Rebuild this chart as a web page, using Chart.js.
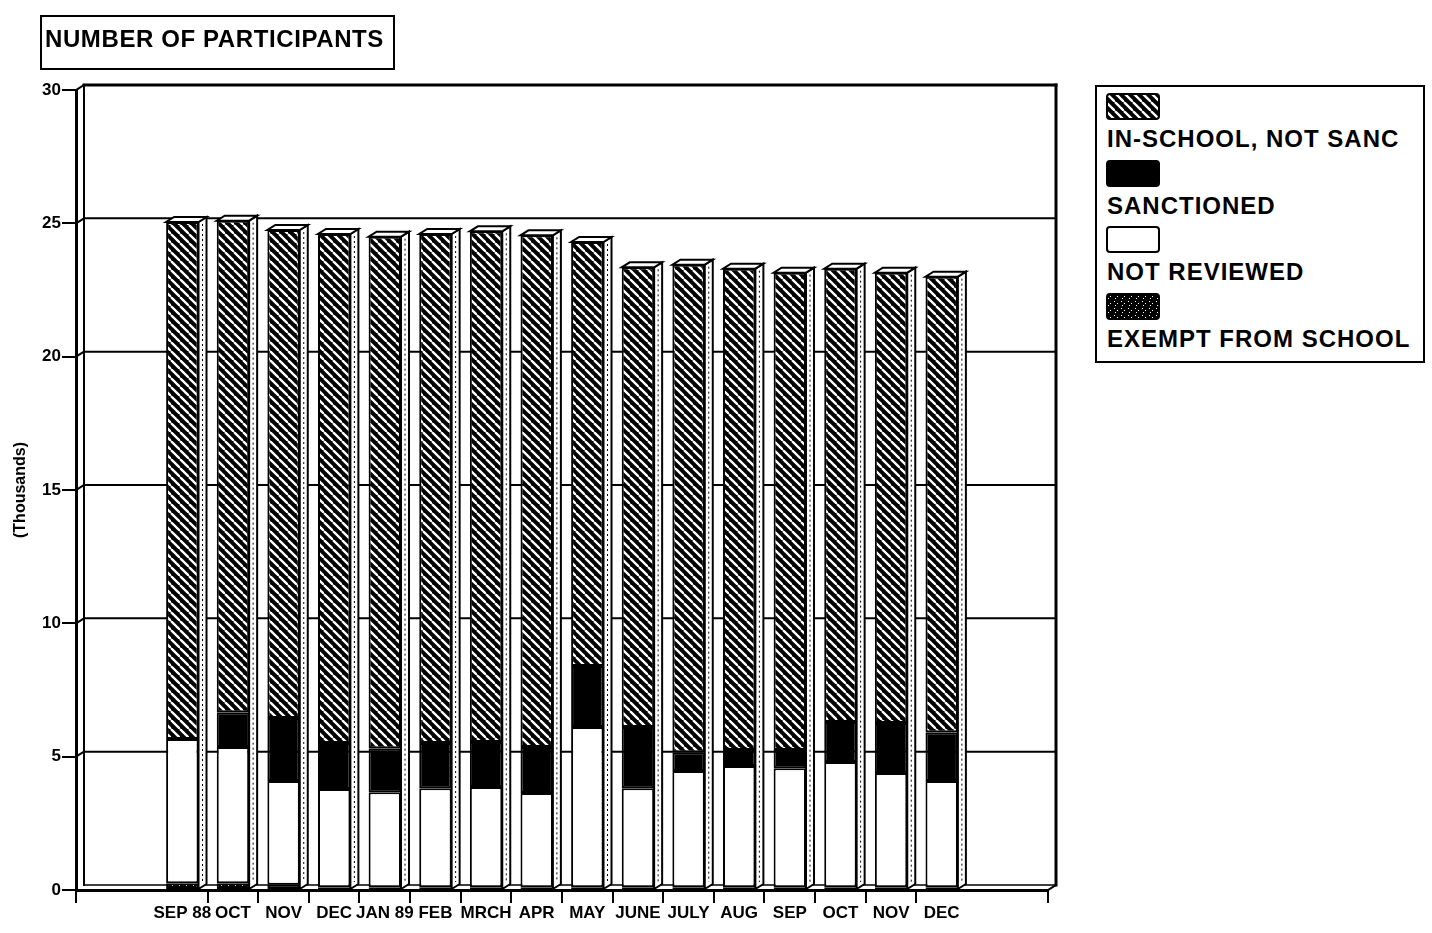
<!DOCTYPE html>
<html>
<head>
<meta charset="utf-8">
<title>Number of participants</title>
<script src="https://cdn.jsdelivr.net/npm/chart.js@4.4.1/dist/chart.umd.min.js"></script>
<style>
  html, body { margin: 0; padding: 0; background: #fff; }
  #wrap { position: relative; width: 1432px; height: 933px; overflow: hidden; }
  canvas { display: block; }
  #title {
    position: absolute; left: 40px; top: 15px; width: 355px; height: 55px;
    box-sizing: border-box; border: 2px solid #000; padding: 0 0 7px 3px;
    font: bold 24px 'Liberation Sans', Arial, sans-serif; line-height: 44px;
    letter-spacing: 0.6px; white-space: nowrap; color: #000;
  }
  #legend {
    position: absolute; left: 1095px; top: 85px; width: 330px; height: 278px;
    box-sizing: border-box; border: 2px solid #000; background: #fff;
  }
  #legend canvas.sw { position: absolute; left: 9px; }
  #legend .lt {
    position: absolute; left: 10px; color: #000;
    font: bold 24px 'Liberation Sans', Arial, sans-serif; line-height: 28px;
    letter-spacing: 1px; white-space: nowrap;
  }
</style>
</head>
<body>
<div id="wrap">
  <canvas id="chart" width="1432" height="933"></canvas>
  <div id="title">NUMBER OF PARTICIPANTS</div>
  <div id="legend"></div>
</div>
<script>
// Monthly caseload, in thousands of participants
const months = ['SEP 88', 'OCT', 'NOV', 'DEC', 'JAN 89', 'FEB', 'MRCH', 'APR',
                'MAY', 'JUNE', 'JULY', 'AUG', 'SEP', 'OCT', 'NOV', 'DEC'];
const exemptFromSchool = [0.25, 0.25, 0.20, 0.10, 0.10, 0.10, 0.10, 0.10,
                          0.10, 0.10, 0.10, 0.10, 0.10, 0.10, 0.10, 0.10];
const notReviewed      = [5.41, 5.11, 3.89, 3.69, 3.57, 3.72, 3.76, 3.54,
                          6.01, 3.72, 4.36, 4.55, 4.47, 4.70, 4.29, 3.99];
const sanctioned       = [0.00, 1.31, 2.36, 1.72, 1.65, 1.69, 1.69, 1.72,
                          2.29, 2.29, 0.71, 0.60, 0.68, 1.50, 1.87, 1.83];
const inSchoolNotSanc  = [19.39, 18.43, 18.30, 19.09, 19.18, 19.09, 19.15, 19.19,
                          15.90, 17.24, 18.28, 18.05, 17.90, 17.00, 16.89, 17.08];
const yTickValues = [0, 5, 10, 15, 20, 25, 30];

// depth of the pseudo-3D box (pixels to the right / upwards)
const DX = 8, DY = 5;
// share of one month's slot taken by the front face of a bar
const BAR_SHARE = 0.64;
const FONT = "'Liberation Sans', Arial, sans-serif";

// ---- fill tiles -------------------------------------------------------
function hatchTile() {
  const s = 9, c = document.createElement('canvas');
  c.width = s; c.height = s;
  const g = c.getContext('2d');
  g.fillStyle = '#000'; g.fillRect(0, 0, s, s);
  g.strokeStyle = '#fff'; g.lineWidth = 2.3;
  for (const o of [-s, 0, s]) {
    g.beginPath(); g.moveTo(o, 0); g.lineTo(o + s, s); g.stroke();
  }
  return c;
}
function stippleTile() {
  const c = document.createElement('canvas');
  c.width = 7; c.height = 7;
  const g = c.getContext('2d');
  g.fillStyle = '#000'; g.fillRect(0, 0, 7, 7);
  g.fillStyle = '#fff';
  g.fillRect(1, 1, 1, 1); g.fillRect(4, 3, 1, 1); g.fillRect(2, 5, 1, 1);
  return c;
}
const canvas = document.getElementById('chart');
const mainCtx = canvas.getContext('2d');
const tiles = { hatch: hatchTile(), stipple: stippleTile() };
const fillFor = (g, kind) => kind === 'white' ? '#fff'
  : kind === 'black' ? '#000' : g.createPattern(tiles[kind], 'repeat');

const points = arr => arr.map((v, i) => ({ x: i, y: v }));

function series(label, values, kind) {
  return {
    label, fillKind: kind, data: points(values),
    backgroundColor: fillFor(mainCtx, kind),
    borderColor: '#000', borderWidth: 2, borderSkipped: false,
    // the ruler also counts the half-step tick marks, so one slot is two steps
    barPercentage: BAR_SHARE * 2, categoryPercentage: 1
  };
}

// ---- 3D box: back wall, floor and bar side/top faces ------------------
const box3d = {
  id: 'box3d',
  beforeDatasetsDraw(chart) {
    const { ctx, chartArea: a, scales: { y } } = chart;
    ctx.save();
    ctx.strokeStyle = '#000';
    ctx.lineCap = 'square';
    const seg = (x1, y1, x2, y2, w) => {
      ctx.lineWidth = w; ctx.beginPath(); ctx.moveTo(x1, y1); ctx.lineTo(x2, y2); ctx.stroke();
    };
    y.ticks.forEach(t => {
      if (t.value === 0) return;
      const py = y.getPixelForValue(t.value);
      seg(a.left, py, a.left + DX, py - DY, 2);
      seg(a.left + DX, py - DY, a.right + DX, py - DY, t.value === 30 ? 3 : 2);
    });
    seg(a.left + DX, a.top - DY, a.left + DX, a.bottom - DY, 2);
    seg(a.right + DX, a.top - DY, a.right + DX, a.bottom - DY, 3);
    seg(a.left + DX, a.bottom - DY, a.right + DX, a.bottom - DY, 1.5);
    seg(a.right, a.bottom, a.right + DX, a.bottom - DY, 2);
    ctx.restore();
  },
  afterDatasetsDraw(chart) {
    const { ctx } = chart;
    const metas = chart.getSortedVisibleDatasetMetas();
    ctx.save();
    ctx.strokeStyle = '#000';
    ctx.lineJoin = 'miter';
    for (let i = 0; i < months.length; i++) {
      let top = Infinity, base = -Infinity, x = 0, w = 0;
      metas.forEach(m => {
        const el = m.data[i];
        if (!el) return;
        const p = el.getProps(['x', 'y', 'base', 'width'], true);
        top = Math.min(top, p.y, p.base);
        base = Math.max(base, p.y, p.base);
        x = p.x; w = p.width;
      });
      const L = x - w / 2, R = x + w / 2;
      // right-hand side face
      ctx.lineWidth = 2; ctx.setLineDash([]);
      ctx.fillStyle = '#fff';
      ctx.beginPath();
      ctx.moveTo(R, top); ctx.lineTo(R + DX, top - DY);
      ctx.lineTo(R + DX, base - DY); ctx.lineTo(R, base); ctx.closePath();
      ctx.fill(); ctx.stroke();
      ctx.lineWidth = 1; ctx.setLineDash([2, 3]);
      ctx.beginPath();
      ctx.moveTo(R + DX / 2, top + 2); ctx.lineTo(R + DX / 2, base - DY - 2);
      ctx.stroke();
      // top face
      ctx.lineWidth = 2; ctx.setLineDash([]);
      ctx.beginPath();
      ctx.moveTo(L, top); ctx.lineTo(R, top);
      ctx.lineTo(R + DX, top - DY); ctx.lineTo(L + DX, top - DY); ctx.closePath();
      ctx.fill(); ctx.stroke();
    }
    ctx.restore();
  }
};

Chart.defaults.font.family = FONT;
Chart.defaults.font.weight = 'bold';
Chart.defaults.color = '#000';

const chart = new Chart(mainCtx, {
  type: 'bar',
  data: {
    datasets: [
      series('EXEMPT FROM SCHOOL', exemptFromSchool, 'stipple'),
      series('NOT REVIEWED', notReviewed, 'white'),
      series('SANCTIONED', sanctioned, 'black'),
      series('IN-SCHOOL, NOT SANC', inSchoolNotSanc, 'hatch')
    ]
  },
  options: {
    responsive: false,
    animation: false,
    layout: { padding: { top: 90, right: 384, bottom: 0, left: 0 } },
    plugins: { legend: { display: false }, tooltip: { enabled: false } },
    scales: {
      x: {
        type: 'linear', stacked: true, offset: false,
        min: -2.1, max: 17.1,
        afterBuildTicks(scale) {
          const t = [{ value: scale.min }];
          months.forEach((m, i) => {
            t.push({ value: i });
            if (i < months.length - 1) t.push({ value: i + 0.5 });
          });
          t.push({ value: scale.max });
          scale.ticks = t;
        },
        afterFit(scale) { scale.height = 43; },
        ticks: {
          autoSkip: false, maxRotation: 0, minRotation: 0, padding: 0,
          font: { size: 17, weight: 'bold' }, color: '#000',
          callback: v => (Number.isInteger(v) && v >= 0 && v < months.length) ? months[v] : ''
        },
        grid: {
          offset: false, drawOnChartArea: false, drawTicks: true, tickLength: 13,
          lineWidth: 2,
          tickColor: c => (c.tick && Number.isInteger(c.tick.value)) ? 'rgba(0,0,0,0)' : '#000'
        },
        border: { display: true, color: '#000', width: 3 }
      },
      y: {
        stacked: true, min: 0, max: 30,
        afterBuildTicks(scale) { scale.ticks = yTickValues.map(v => ({ value: v })); },
        afterFit(scale) { scale.width = 76; },
        ticks: { padding: 1, font: { size: 17, weight: 'bold' }, color: '#000' },
        grid: { drawOnChartArea: false, drawTicks: true, tickLength: 14, lineWidth: 2, tickColor: '#000' },
        border: { display: true, color: '#000', width: 3 },
        title: {
          display: true, text: '(Thousands)', color: '#000',
          font: { size: 16, weight: 'bold' }, padding: { top: 11, bottom: 0 }
        }
      }
    }
  },
  plugins: [box3d]
});

// ---- legend box, built from the chart's datasets (top segment first) ----
(function buildLegend() {
  const host = document.getElementById('legend');
  const rowStep = 66.7;
  chart.data.datasets.slice().reverse().forEach((ds, k) => {
    const sw = document.createElement('canvas');
    sw.className = 'sw'; sw.width = 54; sw.height = 27;
    sw.style.top = (6 + k * rowStep) + 'px';
    const g = sw.getContext('2d');
    g.beginPath();
    g.roundRect(1, 1, 52, 25, 3);
    g.fillStyle = fillFor(g, ds.fillKind);
    g.fill();
    g.lineWidth = 2; g.strokeStyle = '#000'; g.stroke();
    host.appendChild(sw);
    const t = document.createElement('div');
    t.className = 'lt';
    t.textContent = ds.label;
    t.style.top = (38 + k * rowStep) + 'px';
    host.appendChild(t);
  });
})();
</script>
</body>
</html>
